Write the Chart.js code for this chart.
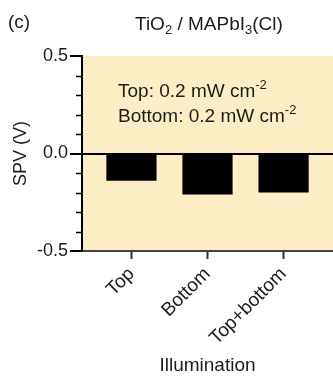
<!DOCTYPE html>
<html>
<head>
<meta charset="utf-8">
<script src="https://cdn.jsdelivr.net/npm/chart.js@4"></script>
<style>
  body { margin: 0; background: #fff; }
  #wrap { position: relative; width: 333px; height: 378px; font-family: 'Liberation Sans', Arial, sans-serif; color: #1c1c1c; }
  #wrap canvas { position: absolute; left: 0; top: 0; }
  .txt { position: absolute; white-space: nowrap; font-size: 19px; line-height: 19px; }
  .txt sub, .txt sup { font-size: 13px; line-height: 0; }
  .txt sub { vertical-align: -4px; }
  .txt sup { vertical-align: 8px; }
  #note { line-height: 25px; }
</style>
</head>
<body>
<div id="wrap">
  <canvas id="spvChart" width="333" height="378"></canvas>
  <div class="txt" style="left:8px; top:12px;">(c)</div>
  <div class="txt" style="left:135px; top:14px;">TiO<sub>2</sub> / MAPbI<sub>3</sub>(Cl)</div>
  <div class="txt" id="note" style="left:118px; top:78px;">Top: 0.2 mW cm<sup>-2</sup><br>Bottom: 0.2 mW cm<sup>-2</sup></div>
</div>
<script>
// Valores
const categorias = ['Top', 'Bottom', 'Top+bottom'];
const spv = [-0.14, -0.21, -0.20];
const yTicks = [-0.5, 0.0, 0.5];

const texto = '#1c1c1c';
const fonte = "'Liberation Sans', Arial, sans-serif";

const ehMaior = v => yTicks.some(m => Math.abs(m - v) < 1e-6);

// fundo amarelo da área do gráfico + ticks menores do eixo y
const fundoPlugin = {
    id: 'fundo',
    beforeDraw(chart) {
        const { ctx, chartArea: a } = chart;
        ctx.save();
        ctx.fillStyle = '#FCEEC4';
        ctx.fillRect(a.left, a.top, a.right - a.left, a.bottom - a.top);
        ctx.restore();
    },
    afterDraw(chart) {
        const { ctx } = chart;
        const y = chart.scales.y;
        ctx.save();
        ctx.strokeStyle = '#000';
        ctx.lineWidth = 1.5;
        y.ticks.forEach(t => {
            if (ehMaior(t.value)) return;
            const py = Math.round(y.getPixelForValue(t.value)) + 0.5;
            ctx.beginPath();
            ctx.moveTo(y.right - 6, py);
            ctx.lineTo(y.right, py);
            ctx.stroke();
        });
        ctx.restore();
    }
};

new Chart(document.getElementById('spvChart').getContext('2d'), {
    type: 'bar',
    data: {
        datasets: [{
            data: spv.map((v, i) => ({ x: i + 1, y: v })),
            backgroundColor: '#000',
            borderWidth: 0,
            barPercentage: 0.66,
            categoryPercentage: 1
        }]
    },
    options: {
        responsive: false,
        animation: false,
        layout: { padding: { top: 56, left: 0, right: 0, bottom: 0 } },
        plugins: { legend: { display: false }, tooltip: { enabled: false } },
        scales: {
            x: {
                type: 'linear',
                min: 0.35,
                max: 3.65,
                offset: false,
                afterBuildTicks: s => { s.ticks = categorias.map((_, i) => ({ value: i + 1 })); },
                afterFit: s => { s.height = 127; },
                ticks: {
                    autoSkip: false,
                    color: texto,
                    font: { family: fonte, size: 19 },
                    minRotation: 45,
                    maxRotation: 45,
                    padding: 4,
                    callback: v => categorias[Math.round(v) - 1]
                },
                grid: { drawOnChartArea: false, offset: false, tickLength: 8, tickWidth: 2, tickColor: '#333' },
                border: { color: '#444', width: 2 },
                title: {
                    display: true,
                    text: 'Illumination',
                    color: texto,
                    font: { family: fonte, size: 19 },
                    padding: { top: 0, bottom: 1 }
                }
            },
            y: {
                min: -0.5,
                max: 0.5,
                afterFit: s => { s.width = 82; },
                ticks: {
                    stepSize: 0.1,
                    autoSkip: false,
                    color: texto,
                    font: { family: fonte, size: 18 },
                    padding: 2,
                    callback: v => ehMaior(v) ? (Math.abs(v) < 1e-6 ? '0.0' : v.toFixed(1)) : ''
                },
                grid: {
                    drawOnChartArea: true,
                    tickLength: 12,
                    lineWidth: 2,
                    tickWidth: 2,
                    color: c => (c.tick && Math.abs(c.tick.value) < 1e-6) ? '#000' : 'rgba(0,0,0,0)',
                    tickColor: c => (c.tick && ehMaior(c.tick.value)) ? '#000' : 'rgba(0,0,0,0)'
                },
                border: { color: '#000', width: 2 },
                title: {
                    display: true,
                    text: 'SPV (V)',
                    color: texto,
                    font: { family: fonte, size: 18 },
                    padding: { top: 10, bottom: 0 }
                }
            }
        }
    },
    plugins: [fundoPlugin]
});
</script>
</body>
</html>
